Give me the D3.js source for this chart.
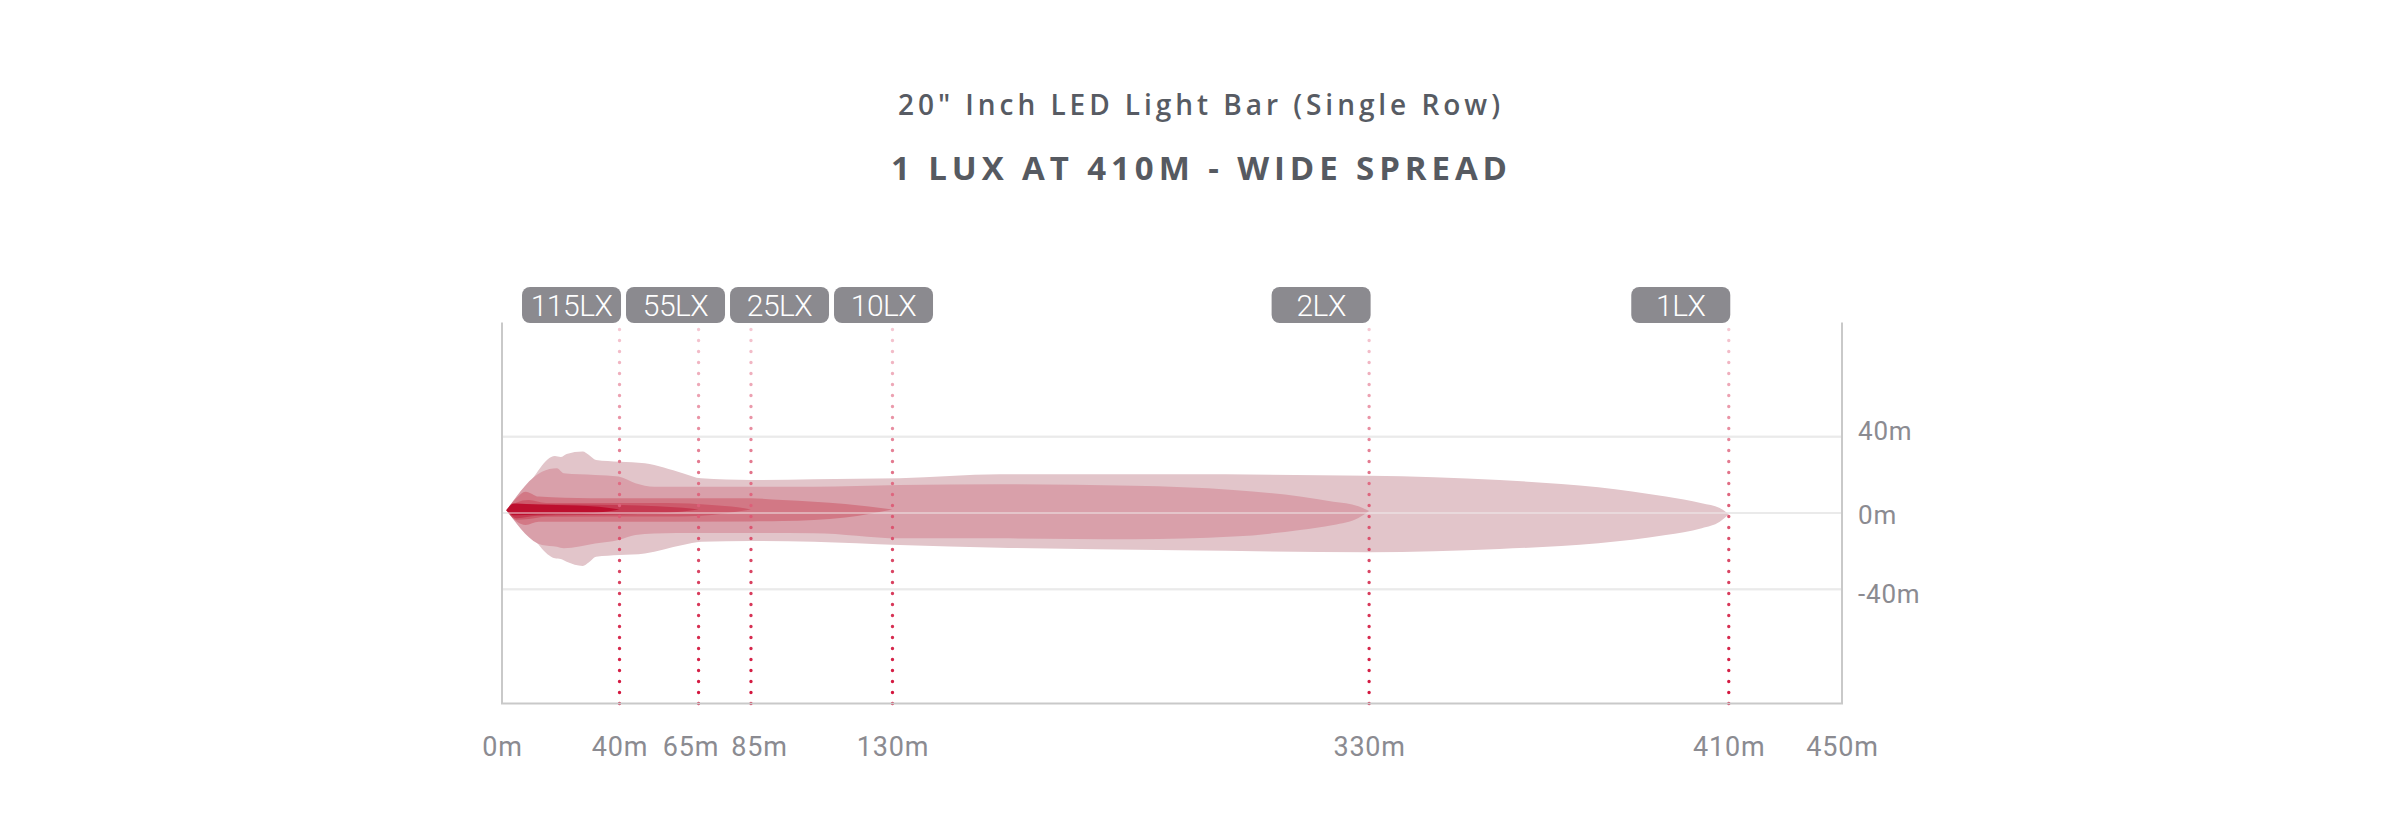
<!DOCTYPE html>
<html>
<head>
<meta charset="utf-8">
<script src="https://cdn.jsdelivr.net/npm/d3@7"></script>
<style>
  html, body { margin: 0; padding: 0; background: #fff; }
  svg { display: block; }
</style>
</head>
<body>
<script>
// ---- data (metres) ----
const chartTitle = "20\" Inch LED Light Bar (Single Row)";
const chartSubtitle = "1 LUX AT 410M - WIDE SPREAD";

const luxLabels = ["115LX", "55LX", "25LX", "10LX", "2LX", "1LX"];
const luxDistances = [40, 65, 85, 130, 330, 410];

const xTickValues = [0, 40, 65, 85, 130, 330, 410, 450];
const yTickValues = [40, 0, -40];

// beam outlines: [distance, top edge, bottom edge]
const beam1lx = [[1.5,1.5,1.5],[8,13,-8.5],[18,29.9,-23.8],[20,29.4,-24.2],[22,31,-25.6],[27.5,32.3,-27.8],[29.5,30.6,-26],[32,27.8,-23],[40,26.9,-22.1],[48,26.1,-21.2],[60,20.9,-16.8],[66,18.2,-15.1],[85,17.3,-14.7],[105,17.7,-15.1],[133,18.2,-16.8],[175,20.3,-18.2],[250,20.3,-19.6],[330,19.6,-20.6],[359,17.3,-18.9],[381,13.5,-15.9],[396,8.6,-11.6],[404,5.1,-8],[408,2.6,-4.6],[410,-0.7,-0.7]];
const beam2lx = [[1.5,1.5,1.5],[13.6,21.7,-16.8],[18.7,23.5,-17.7],[21,20.9,-18.5],[31.7,20,-16],[39.7,19.1,-14.2],[45,15.6,-11.6],[51,13.8,-10.7],[65,13.8,-10.5],[105,13.8,-10.6],[133,14.7,-13.3],[175,15.1,-13.3],[231,14.3,-13.8],[273,12.1,-12.4],[301,8.6,-8.9],[315,5.9,-6.3],[325.5,3.6,-2.6],[330,1,1]];
const beam10lx = [[1.5,1.5,1.5],[5,8,-4.5],[8,11.2,-6.3],[12.5,8.6,-4.6],[30,7.7,-4.6],[85,7.7,-4.4],[95,6.8,-4.2],[115,4.7,-2.3],[130,1.9,1.9]];
const beam25lx = [[1.5,1.5,1.5],[5,5.5,-3.5],[9,6.8,-3.2],[15,5.2,-2],[55,5.2,-1.9],[70,4.2,-1],[80,3,0.8],[85,1.9,1.9]];
const beam55lx = [[1.5,1.5,1.5],[5,4.8,-2.8],[12,4.6,-1.5],[40,4.2,-0.8],[52,3.6,-0.3],[60,2.8,0.8],[65,1.9,1.9]];
const beam115lx = [[1.5,1.5,1.5],[4,5,-1.2],[12,4.4,-0.8],[25,3.9,-0.3],[33,3.3,0.3],[40,1.9,1.9]];

const beams = [beam1lx, beam2lx, beam10lx, beam25lx, beam55lx, beam115lx];
const beamColors = ["#e2c5ca", "#d9a0aa", "#d27885", "#cd5a6b", "#c63a51", "#bd0f2e"];

// ---- layout ----
const W = 2400, H = 832;
const plotLeft = 502, plotRight = 1842, plotTop = 322.5, plotBottom = 703.5;

// the distance axis is drawn piecewise (not to scale) in the original
const xStopFrac = [0, 0.0877, 0.1467, 0.1858, 0.2914, 0.6471, 0.9155, 1];
const x = d3.scaleLinear()
    .domain(xTickValues)
    .range(xStopFrac.map(f => plotLeft + f * (plotRight - plotLeft)));
const y = d3.scaleLinear().domain([-100, 100]).range([plotBottom, plotTop]);

const svg = d3.select("body").append("svg")
    .attr("width", W)
    .attr("height", H);

svg.append("rect").attr("width", W).attr("height", H).attr("fill", "#fff");

// titles
svg.append("text")
    .attr("x", 1199).attr("y", 115)
    .attr("text-anchor", "middle")
    .attr("font-family", "'Open Sans', sans-serif")
    .attr("font-weight", 600)
    .attr("font-size", 28)
    .attr("fill", "#575b63")
    .attr("textLength", 602)
    .attr("lengthAdjust", "spacing")
    .text(chartTitle);

svg.append("text")
    .attr("x", 1199).attr("y", 180)
    .attr("text-anchor", "middle")
    .attr("font-family", "'Open Sans', sans-serif")
    .attr("font-weight", 700)
    .attr("font-size", 33)
    .attr("fill", "#565a61")
    .attr("textLength", 616)
    .attr("lengthAdjust", "spacing")
    .text(chartSubtitle);

// gradient for the dotted distance markers
const defs = svg.append("defs");
const grad = defs.append("linearGradient")
    .attr("id", "dotGrad")
    .attr("gradientUnits", "userSpaceOnUse")
    .attr("x1", 0).attr("x2", 0)
    .attr("y1", plotTop).attr("y2", plotBottom);
grad.append("stop").attr("offset", 0).attr("stop-color", "#f6cdd7");
grad.append("stop").attr("offset", 0.5).attr("stop-color", "#dc5b75");
grad.append("stop").attr("offset", 1).attr("stop-color", "#d3123b");

// gridlines under the beams
svg.append("g").selectAll("line")
    .data(yTickValues)
    .enter().append("line")
    .attr("x1", plotLeft).attr("x2", plotRight)
    .attr("y1", d => y(d)).attr("y2", d => y(d))
    .attr("stroke", "#e4e4e4")
    .attr("stroke-width", 2);

// beams
const area = d3.area()
    .x(d => x(d[0]))
    .y0(d => y(d[2]))
    .y1(d => y(d[1]))
    .curve(d3.curveMonotoneX);

svg.append("g").selectAll("path")
    .data(beams)
    .enter().append("path")
    .attr("d", area)
    .attr("fill", (d, i) => beamColors[i]);

// gridlines again, faint, over the beams
svg.append("g").selectAll("line")
    .data(yTickValues)
    .enter().append("line")
    .attr("x1", plotLeft).attr("x2", plotRight)
    .attr("y1", d => y(d)).attr("y2", d => y(d))
    .attr("stroke", "#f2f2f2")
    .attr("stroke-opacity", 0.45)
    .attr("stroke-width", 2);

// dotted markers
svg.append("g").selectAll("line")
    .data(luxDistances)
    .enter().append("line")
    .attr("x1", d => x(d)).attr("x2", d => x(d))
    .attr("y1", plotBottom).attr("y2", plotTop + 5)
    .attr("stroke", "url(#dotGrad)")
    .attr("stroke-width", 3.4)
    .attr("stroke-linecap", "round")
    .attr("stroke-dasharray", "0 11");

// frame
svg.append("path")
    .attr("d", d3.line()([[plotLeft, plotTop], [plotLeft, plotBottom], [plotRight, plotBottom], [plotRight, plotTop]]))
    .attr("fill", "none")
    .attr("stroke", "#c9c9c9")
    .attr("stroke-width", 2);

// x axis labels
const xAxis = svg.append("g")
    .attr("transform", "translate(0," + plotBottom + ")")
    .call(d3.axisBottom(x).tickValues(xTickValues).tickSize(0).tickPadding(33).tickFormat(d => d + "m"));
xAxis.select(".domain").remove();
xAxis.selectAll("text")
    .attr("font-family", "Roboto, sans-serif")
    .attr("font-size", 27)
    .attr("letter-spacing", 0.8)
    .attr("fill", "#8b8b91");

// push apart x labels that would touch
var boxes = xTickValues.map(function(v, i) {
    var t = xAxis.selectAll("text").nodes()[i];
    return { node: t, x: x(v), w: t.getComputedTextLength(), dx: 0 };
});
for (var k = 0; k < 30; k++) {
    for (var i = 1; i < boxes.length; i++) {
        var a = boxes[i - 1], b = boxes[i];
        var gap = (b.x + b.dx - b.w / 2) - (a.x + a.dx + a.w / 2);
        if (gap < 12) {
            var s = (12 - gap) / 2;
            if (i > 1) { a.dx -= s; b.dx += s; } else { b.dx += 2 * s; }
        }
    }
}
boxes.forEach(function(b) { d3.select(b.node).attr("x", b.dx); });

// y axis labels, nudged a little away from the centre line
const yAxis = svg.append("g")
    .attr("transform", "translate(" + plotRight + ",0)")
    .call(d3.axisRight(y).tickValues(yTickValues).tickSize(0).tickPadding(16).tickFormat(d => d + "m"));
yAxis.select(".domain").remove();
yAxis.selectAll("text")
    .attr("y", d => d > 0 ? -6 : (d < 0 ? 5 : 2))
    .attr("font-family", "Roboto, sans-serif")
    .attr("font-size", 26)
    .attr("letter-spacing", 0.8)
    .attr("fill", "#8b8b91");

// lux badges, right edge on the marker, pushed right when they collide
const bw = 99, bh = 36, by = 287;
let lastRight = -Infinity;
const badgeX = luxDistances.map(d => {
    const bx = Math.max(x(d) + 1.5 - bw, lastRight + 5);
    lastRight = bx + bw;
    return bx;
});

const badge = svg.append("g").selectAll("g")
    .data(luxLabels)
    .enter().append("g")
    .attr("transform", (d, i) => "translate(" + badgeX[i] + "," + by + ")");
badge.append("rect")
    .attr("width", bw).attr("height", bh)
    .attr("rx", 8).attr("ry", 8)
    .attr("fill", "#8b8a8f");
badge.append("text")
    .attr("x", bw / 2).attr("y", bh / 2)
    .attr("dy", "0.36em")
    .attr("text-anchor", "middle")
    .attr("font-family", "Roboto, sans-serif")
    .attr("font-weight", 300)
    .attr("font-size", 30)
    .attr("letter-spacing", -0.5)
    .attr("fill", "#fff")
    .text(d => d);
</script>
</body>
</html>
